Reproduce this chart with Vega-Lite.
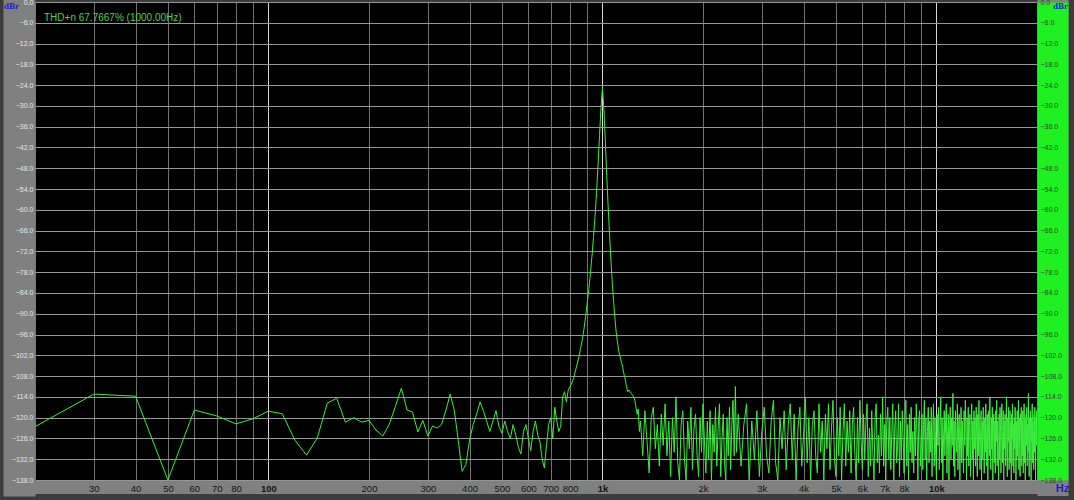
{
"$schema": "https://vega.github.io/schema/vega-lite/v6.json",
"width": 1002,
"height": 478,
"autosize": {"type": "none"},
"padding": {"left": 35, "top": 2, "right": 37, "bottom": 20},
"background": "#3c3c3c",
"config": {"view": {"fill": "#000000", "stroke": null}},
"title": {"text": "THD+n 67.7667% (1000.00Hz)", "orient": "top", "anchor": "start", "frame": "group", "baseline": "alphabetic", "offset": 0, "dx": 9, "dy": 33, "font": "Liberation Sans", "fontSize": 10, "fontWeight": "normal", "color": "#4fd24f"},
"data": {"values": [
{"f":20,"d":-122.6},{"f":30,"d":-113.2},{"f":40,"d":-113.8},{"f":50,"d":-138},{"f":60,"d":-117.8},{"f":70,"d":-119.5},{"f":80,"d":-121.8},{"f":90,"d":-120.3},{"f":100,"d":-118.1},{"f":110,"d":-118.9},
{"f":120,"d":-126.5},{"f":130,"d":-130.8},{"f":140,"d":-125.9},{"f":150,"d":-115.8},{"f":160,"d":-114.4},{"f":170,"d":-121.3},{"f":180,"d":-120},{"f":190,"d":-121.3},{"f":200,"d":-120.8},{"f":210,"d":-123.6},
{"f":220,"d":-125.3},{"f":230,"d":-121.9},{"f":240,"d":-116.7},{"f":250,"d":-111.5},{"f":260,"d":-117.8},{"f":270,"d":-118.4},{"f":280,"d":-124.1},{"f":290,"d":-120.8},{"f":300,"d":-125.3},{"f":310,"d":-122.4},
{"f":320,"d":-123},{"f":330,"d":-121.9},{"f":340,"d":-117.8},{"f":350,"d":-113.2},{"f":360,"d":-117.8},{"f":370,"d":-126.5},{"f":380,"d":-135.5},{"f":390,"d":-133.5},{"f":400,"d":-126.5},{"f":410,"d":-122},
{"f":420,"d":-119},{"f":430,"d":-115.5},{"f":440,"d":-118},{"f":450,"d":-121},{"f":460,"d":-124},{"f":470,"d":-121},{"f":480,"d":-118},{"f":490,"d":-122.5},{"f":500,"d":-124.5},{"f":510,"d":-121},
{"f":520,"d":-124},{"f":530,"d":-126},{"f":540,"d":-122},{"f":550,"d":-125},{"f":560,"d":-128.5},{"f":570,"d":-130.5},{"f":580,"d":-124},{"f":590,"d":-122},{"f":600,"d":-126},{"f":610,"d":-129.5},
{"f":620,"d":-124},{"f":630,"d":-121},{"f":640,"d":-125},{"f":650,"d":-127},{"f":660,"d":-132},{"f":670,"d":-134.5},{"f":680,"d":-128},{"f":690,"d":-122},{"f":700,"d":-120},{"f":710,"d":-126},
{"f":720,"d":-117},{"f":730,"d":-121},{"f":740,"d":-124},{"f":750,"d":-122.5},{"f":760,"d":-114},{"f":770,"d":-112.5},{"f":780,"d":-115.5},{"f":790,"d":-112},{"f":800,"d":-111},{"f":810,"d":-110},
{"f":820,"d":-108.5},{"f":830,"d":-106.5},{"f":840,"d":-104.5},{"f":850,"d":-102.5},{"f":860,"d":-100},{"f":870,"d":-97.5},{"f":880,"d":-94.5},{"f":890,"d":-91},{"f":900,"d":-87},{"f":910,"d":-83},
{"f":920,"d":-78.5},{"f":930,"d":-73.5},{"f":940,"d":-68},{"f":950,"d":-62},{"f":960,"d":-55},{"f":970,"d":-47},{"f":980,"d":-38.5},{"f":990,"d":-30.5},{"f":1000,"d":-24.8},{"f":1010,"d":-31},
{"f":1020,"d":-40},{"f":1030,"d":-50},{"f":1040,"d":-59},{"f":1050,"d":-67},{"f":1060,"d":-74.5},{"f":1070,"d":-81},{"f":1080,"d":-86.5},{"f":1090,"d":-91.5},{"f":1100,"d":-95.5},{"f":1110,"d":-98.5},
{"f":1120,"d":-101},{"f":1130,"d":-102.5},{"f":1140,"d":-104},{"f":1150,"d":-105.5},{"f":1160,"d":-107.5},{"f":1170,"d":-109},{"f":1180,"d":-111},{"f":1190,"d":-112.5},{"f":1200,"d":-112},{"f":1210,"d":-112.5},
{"f":1220,"d":-113},{"f":1230,"d":-113.5},{"f":1240,"d":-114},{"f":1250,"d":-115},{"f":1260,"d":-117},{"f":1270,"d":-119},{"f":1280,"d":-117.5},{"f":1290,"d":-124},
{"f":1300,"d":-121},{"f":1320,"d":-131},{"f":1340,"d":-118},{"f":1360,"d":-127},{"f":1380,"d":-136},{"f":1400,"d":-120},{"f":1420,"d":-117},{"f":1440,"d":-129},{"f":1460,"d":-122},{"f":1480,"d":-134},
{"f":1500,"d":-119},{"f":1520,"d":-128},{"f":1540,"d":-116},{"f":1560,"d":-131},{"f":1580,"d":-121},{"f":1600,"d":-137},{"f":1620,"d":-120},{"f":1640,"d":-130},{"f":1660,"d":-114},{"f":1680,"d":-133},
{"f":1700,"d":-138},{"f":1720,"d":-122},{"f":1740,"d":-118},{"f":1760,"d":-132},{"f":1780,"d":-138},{"f":1800,"d":-121},{"f":1820,"d":-129},{"f":1840,"d":-117},{"f":1860,"d":-135},{"f":1880,"d":-123},
{"f":1900,"d":-119},{"f":1920,"d":-131},{"f":1940,"d":-137},{"f":1960,"d":-120},{"f":1980,"d":-130},{"f":2000,"d":-116},{"f":2020,"d":-127},{"f":2040,"d":-136},{"f":2060,"d":-121},{"f":2080,"d":-132},
{"f":2100,"d":-118},{"f":2120,"d":-138},{"f":2140,"d":-122},{"f":2160,"d":-130},{"f":2180,"d":-117},{"f":2200,"d":-134},{"f":2220,"d":-123},{"f":2240,"d":-116},{"f":2260,"d":-137},{"f":2280,"d":-126},
{"f":2300,"d":-119},{"f":2320,"d":-133},{"f":2340,"d":-138},{"f":2360,"d":-120},{"f":2380,"d":-131},{"f":2400,"d":-117},{"f":2420,"d":-135},{"f":2440,"d":-122},{"f":2460,"d":-115},{"f":2480,"d":-131},
{"f":2500,"d":-111},{"f":2520,"d":-130},
{"f":2550,"d":-119},{"f":2600,"d":-134},{"f":2650,"d":-122},{"f":2700,"d":-116},{"f":2750,"d":-138},{"f":2800,"d":-121},{"f":2850,"d":-132},{"f":2900,"d":-118},{"f":2950,"d":-137},{"f":3000,"d":-124},
{"f":3050,"d":-117},{"f":3100,"d":-131},{"f":3150,"d":-136},{"f":3200,"d":-121},{"f":3250,"d":-115},{"f":3300,"d":-133},{"f":3350,"d":-138},{"f":3400,"d":-120},{"f":3450,"d":-129},{"f":3500,"d":-118},
{"f":3550,"d":-135},{"f":3600,"d":-122},{"f":3650,"d":-116},{"f":3700,"d":-132},{"f":3750,"d":-119},{"f":3800,"d":-138},{"f":3850,"d":-123},{"f":3900,"d":-117},{"f":3950,"d":-134},{"f":4000,"d":-125},
{"f":4050,"d":-114},{"f":4100,"d":-133},{"f":4150,"d":-120},{"f":4200,"d":-138},{"f":4250,"d":-122},{"f":4300,"d":-118},{"f":4350,"d":-131},{"f":4400,"d":-136},{"f":4450,"d":-116},{"f":4500,"d":-130},
{"f":4550,"d":-121},{"f":4600,"d":-138},{"f":4650,"d":-119},{"f":4700,"d":-129},{"f":4750,"d":-116},{"f":4800,"d":-135},{"f":4850,"d":-123},{"f":4900,"d":-115},{"f":4950,"d":-132},{"f":5000,"d":-137},
{"f":5050,"d":-120},{"f":5100,"d":-131},{"f":5150,"d":-117},{"f":5200,"d":-138},{"f":5250,"d":-124},{"f":5300,"d":-116},{"f":5350,"d":-134},{"f":5400,"d":-121},{"f":5450,"d":-130},{"f":5500,"d":-118},
{"f":5550,"d":-136},{"f":5600,"d":-122},{"f":5650,"d":-117},{"f":5700,"d":-131},{"f":5750,"d":-138},{"f":5800,"d":-120},{"f":5850,"d":-133},{"f":5900,"d":-115},{"f":5950,"d":-127},{"f":6000,"d":-135},
{"f":6050,"d":-119},{"f":6100,"d":-132},{"f":6150,"d":-121},{"f":6200,"d":-116},{"f":6250,"d":-137},{"f":6300,"d":-123},{"f":6350,"d":-134},{"f":6400,"d":-118},{"f":6450,"d":-130},{"f":6500,"d":-138},
{"f":6550,"d":-120},{"f":6600,"d":-116},{"f":6650,"d":-133},{"f":6700,"d":-125},{"f":6750,"d":-136},{"f":6800,"d":-119},{"f":6850,"d":-131},{"f":6900,"d":-114},{"f":6950,"d":-134},{"f":7000,"d":-122},
{"f":7050,"d":-138},{"f":7100,"d":-121},{"f":7150,"d":-117},{"f":7200,"d":-132},{"f":7250,"d":-120},{"f":7300,"d":-135},{"f":7350,"d":-124},{"f":7400,"d":-116},{"f":7450,"d":-138},{"f":7500,"d":-123},
{"f":7550,"d":-118},{"f":7600,"d":-133},{"f":7650,"d":-128},{"f":7700,"d":-116},{"f":7750,"d":-137},{"f":7800,"d":-121},{"f":7850,"d":-132},{"f":7900,"d":-118},{"f":7950,"d":-126},{"f":8000,"d":-136},
{"f":8050,"d":-120},{"f":8100,"d":-115},{"f":8150,"d":-134},{"f":8200,"d":-122},{"f":8250,"d":-138},{"f":8300,"d":-119},{"f":8350,"d":-130},{"f":8400,"d":-117},{"f":8450,"d":-133},{"f":8500,"d":-124},
{"f":8550,"d":-136},{"f":8600,"d":-120},{"f":8650,"d":-131},{"f":8700,"d":-116},{"f":8750,"d":-125},{"f":8800,"d":-138},{"f":8850,"d":-121},{"f":8900,"d":-118},{"f":8950,"d":-134},{"f":9000,"d":-127},
{"f":9050,"d":-119},{"f":9100,"d":-135},{"f":9150,"d":-122},{"f":9200,"d":-115},{"f":9250,"d":-132},{"f":9300,"d":-120},{"f":9350,"d":-138},{"f":9400,"d":-124},{"f":9450,"d":-117},{"f":9500,"d":-133},
{"f":9550,"d":-121},{"f":9600,"d":-130},{"f":9650,"d":-117},{"f":9700,"d":-137},{"f":9750,"d":-123},{"f":9800,"d":-116},{"f":9850,"d":-134},{"f":9900,"d":-120},{"f":9950,"d":-131},{"f":10000,"d":-138},
{"f":10050,"d":-119},{"f":10100,"d":-128},{"f":10150,"d":-117},{"f":10200,"d":-135},{"f":10250,"d":-122},{"f":10300,"d":-114},{"f":10350,"d":-133},{"f":10400,"d":-120},{"f":10450,"d":-138},{"f":10500,"d":-126},
{"f":10550,"d":-118},{"f":10600,"d":-131},{"f":10650,"d":-121},{"f":10700,"d":-116},{"f":10750,"d":-136},{"f":10800,"d":-124},{"f":10850,"d":-119},{"f":10900,"d":-138},{"f":10950,"d":-123},{"f":11000,"d":-117},
{"f":11050,"d":-132},{"f":11100,"d":-120},{"f":11150,"d":-128},{"f":11200,"d":-113},{"f":11250,"d":-134},{"f":11300,"d":-121},{"f":11350,"d":-137},{"f":11400,"d":-118},{"f":11450,"d":-126},{"f":11500,"d":-130},
{"f":11550,"d":-116},{"f":11600,"d":-135},{"f":11650,"d":-122},{"f":11700,"d":-119},{"f":11750,"d":-138},{"f":11800,"d":-127},{"f":11850,"d":-117},{"f":11900,"d":-133},{"f":11950,"d":-121},{"f":12000,"d":-129},
{"f":12050,"d":-136},{"f":12100,"d":-118},{"f":12150,"d":-128},{"f":12200,"d":-115},{"f":12250,"d":-123},{"f":12300,"d":-138},{"f":12350,"d":-120},{"f":12400,"d":-131},{"f":12450,"d":-117},{"f":12500,"d":-134},
{"f":12550,"d":-122},{"f":12600,"d":-119},{"f":12650,"d":-137},{"f":12700,"d":-125},{"f":12750,"d":-116},{"f":12800,"d":-132},{"f":12850,"d":-121},{"f":12900,"d":-138},{"f":12950,"d":-118},{"f":13000,"d":-129},
{"f":13050,"d":-120},{"f":13100,"d":-134},{"f":13150,"d":-117},{"f":13200,"d":-126},{"f":13250,"d":-137},{"f":13300,"d":-119},{"f":13350,"d":-131},{"f":13400,"d":-115},{"f":13450,"d":-123},{"f":13500,"d":-135},
{"f":13550,"d":-127},{"f":13600,"d":-118},{"f":13650,"d":-138},{"f":13700,"d":-121},{"f":13750,"d":-132},{"f":13800,"d":-117},{"f":13850,"d":-125},{"f":13900,"d":-136},{"f":13950,"d":-120},{"f":14000,"d":-130},
{"f":14050,"d":-116},{"f":14100,"d":-123},{"f":14150,"d":-134},{"f":14200,"d":-119},{"f":14250,"d":-138},{"f":14300,"d":-126},{"f":14350,"d":-118},{"f":14400,"d":-131},{"f":14450,"d":-114},{"f":14500,"d":-128},
{"f":14550,"d":-135},{"f":14600,"d":-120},{"f":14650,"d":-129},{"f":14700,"d":-117},{"f":14750,"d":-138},{"f":14800,"d":-122},{"f":14850,"d":-119},{"f":14900,"d":-133},{"f":14950,"d":-121},{"f":15000,"d":-136},
{"f":15050,"d":-118},{"f":15100,"d":-127},{"f":15150,"d":-115},{"f":15200,"d":-134},{"f":15250,"d":-121},{"f":15300,"d":-130},{"f":15350,"d":-138},{"f":15400,"d":-119},{"f":15450,"d":-132},{"f":15500,"d":-117},
{"f":15550,"d":-122},{"f":15600,"d":-136},{"f":15650,"d":-120},{"f":15700,"d":-116},{"f":15750,"d":-133},{"f":15800,"d":-124},{"f":15850,"d":-118},{"f":15900,"d":-138},{"f":15950,"d":-121},{"f":16000,"d":-129},
{"f":16050,"d":-119},{"f":16100,"d":-134},{"f":16150,"d":-122},{"f":16200,"d":-114},{"f":16250,"d":-131},{"f":16300,"d":-137},{"f":16350,"d":-120},{"f":16400,"d":-127},{"f":16450,"d":-117},{"f":16500,"d":-135},
{"f":16550,"d":-128},{"f":16600,"d":-118},{"f":16650,"d":-133},{"f":16700,"d":-121},{"f":16750,"d":-138},{"f":16800,"d":-119},{"f":16850,"d":-126},{"f":16900,"d":-116},{"f":16950,"d":-134},{"f":17000,"d":-122},
{"f":17050,"d":-136},{"f":17100,"d":-120},{"f":17150,"d":-129},{"f":17200,"d":-117},{"f":17250,"d":-123},{"f":17300,"d":-138},{"f":17350,"d":-121},{"f":17400,"d":-132},{"f":17450,"d":-118},{"f":17500,"d":-131},
{"f":17550,"d":-124},{"f":17600,"d":-115},{"f":17650,"d":-135},{"f":17700,"d":-120},{"f":17750,"d":-128},{"f":17800,"d":-137},{"f":17850,"d":-119},{"f":17900,"d":-122},{"f":17950,"d":-117},{"f":18000,"d":-134},
{"f":18050,"d":-121},{"f":18100,"d":-131},{"f":18150,"d":-118},{"f":18200,"d":-136},{"f":18250,"d":-125},{"f":18300,"d":-116},{"f":18350,"d":-133},{"f":18400,"d":-120},{"f":18450,"d":-138},{"f":18500,"d":-123},
{"f":18550,"d":-119},{"f":18600,"d":-128},{"f":18650,"d":-117},{"f":18700,"d":-134},{"f":18750,"d":-122},{"f":18800,"d":-130},{"f":18850,"d":-113},{"f":18900,"d":-124},{"f":18950,"d":-137},{"f":19000,"d":-120},
{"f":19050,"d":-132},{"f":19100,"d":-118},{"f":19150,"d":-123},{"f":19200,"d":-138},{"f":19250,"d":-120},{"f":19300,"d":-127},{"f":19350,"d":-116},{"f":19400,"d":-133},{"f":19450,"d":-121},{"f":19500,"d":-126},
{"f":19550,"d":-135},{"f":19600,"d":-119},{"f":19650,"d":-130},{"f":19700,"d":-117},{"f":19750,"d":-122},{"f":19800,"d":-138},{"f":19850,"d":-120},{"f":19900,"d":-128},{"f":19950,"d":-118},{"f":20000,"d":-124}
]},
"layer": [
{
"mark": {"type": "line", "color": "#3cee3c", "strokeWidth": 1, "clip": true},
"encoding": {
"x": {"field": "f", "type": "quantitative", "scale": {"type": "log", "domain": [20, 20000], "nice": false},
"axis": {"orient": "bottom", "title": null, "grid": true, "domain": false, "ticks": false, "labels": false, "zindex": 0,
"values": [20,30,40,50,60,70,80,90,100,200,300,400,500,600,700,800,900,1000,2000,3000,4000,5000,6000,7000,8000,9000,10000,20000],
"gridColor": {"condition": {"test": "datum.value == 100 || datum.value == 1000 || datum.value == 10000", "value": "#d8d8d8"}, "value": "#727272"}, "gridWidth": 1, "gridOpacity": 1}},
"y": {"field": "d", "type": "quantitative", "scale": {"domain": [-138, 0], "nice": false, "zero": false},
"axis": {"orient": "left", "title": null, "grid": true, "domain": false, "ticks": false, "labels": false, "zindex": 0,
"values": [0,-6,-12,-18,-24,-30,-36,-42,-48,-54,-60,-66,-72,-78,-84,-90,-96,-102,-108,-114,-120,-126,-132,-138],
"gridColor": "#969696", "gridWidth": 1, "gridOpacity": 1}}
}
},
{
"mark": {"type": "line", "opacity": 0},
"encoding": {
"x": {"field": "f", "type": "quantitative", "scale": {"type": "log", "domain": [20, 20000], "nice": false},
"axis": {"orient": "bottom", "offset": 7, "grid": false, "domain": true, "domainWidth": 13, "domainColor": "#808080", "domainCap": "square", "domainOpacity": 1, "ticks": false, "labels": false, "title": null, "zindex": 1}},
"y": {"field": "d", "type": "quantitative", "scale": {"domain": [-138, 0], "nice": false, "zero": false},
"axis": {"orient": "left", "offset": 16, "grid": false, "domain": true, "domainWidth": 32, "domainColor": "#808080", "domainCap": "square", "domainOpacity": 1, "ticks": false, "labels": false, "title": null, "zindex": 1}}
}
},
{
"mark": {"type": "line", "opacity": 0},
"encoding": {
"x": {"field": "f", "type": "quantitative", "scale": {"type": "log", "domain": [20, 20000], "nice": false}, "axis": null},
"y": {"field": "d", "type": "quantitative", "scale": {"domain": [-138, 0], "nice": false, "zero": false},
"axis": {"orient": "right", "offset": 15.5, "grid": false, "domain": true, "domainWidth": 31, "domainColor": "#808080", "domainCap": "square", "domainOpacity": 1, "ticks": false, "labels": false, "title": null, "zindex": 1}}
}
},
{
"mark": {"type": "line", "opacity": 0},
"encoding": {
"x": {"field": "f", "type": "quantitative", "scale": {"type": "log", "domain": [20, 20000], "nice": false}, "axis": null},
"y": {"field": "d", "type": "quantitative", "scale": {"domain": [-138, 0], "nice": false, "zero": false},
"axis": {"orient": "right", "offset": 15.5, "grid": false, "domain": true, "domainWidth": 31, "domainColor": "#1ff01f", "domainCap": "butt", "domainOpacity": 1, "ticks": false, "labels": false, "title": null, "zindex": 2}}
}
},
{
"mark": {"type": "line", "opacity": 0},
"encoding": {
"x": {"field": "f", "type": "quantitative", "scale": {"type": "log", "domain": [20, 20000], "nice": false},
"axis": {"orient": "bottom", "offset": 7, "grid": false, "domain": false, "zindex": 3,
"ticks": false, "tickSize": 0, "labelPadding": 1.5, "labelBaseline": "middle", "labelAlign": "center", "labelOverlap": false, "labelBound": false, "labelFlush": false,
"values": [30,40,50,60,70,80,100,200,300,400,500,600,700,800,1000,2000,3000,4000,5000,6000,7000,8000,10000],
"labelExpr": "datum.value >= 1000 ? (datum.value / 1000) + 'k' : datum.value + ''",
"labelFont": "Liberation Sans", "labelFontSize": 9.5, "labelColor": "#141414",
"labelFontWeight": {"condition": {"test": "datum.value == 100 || datum.value == 1000 || datum.value == 10000", "value": "bold"}, "value": "normal"},
"title": "Hz", "titleX": 1027, "titleY": 1.5, "titleAlign": "center", "titleBaseline": "middle", "titleAnchor": null, "titleFont": "Liberation Sans", "titleFontSize": 11, "titleFontWeight": "bold", "titleColor": "#1c1cd8"}},
"y": {"field": "d", "type": "quantitative", "scale": {"domain": [-138, 0], "nice": false, "zero": false},
"axis": {"orient": "left", "offset": 16, "grid": false, "domain": false, "zindex": 3,
"ticks": false, "tickSize": 0, "labelPadding": -14, "labelAlign": "right", "labelBaseline": "middle", "labelOverlap": false, "labelBound": false, "labelFlush": false,
"values": [0,-6,-12,-18,-24,-30,-36,-42,-48,-54,-60,-66,-72,-78,-84,-90,-96,-102,-108,-114,-120,-126,-132,-138],
"format": ".1f", "labelFont": "Liberation Sans", "labelFontSize": 7, "labelColor": "#e6e6e6",
"title": "dBr", "titleAngle": 0, "titleX": -8, "titleY": 3.5, "titleAlign": "center", "titleBaseline": "middle", "titleAnchor": null, "titleFont": "Liberation Serif", "titleFontSize": 9, "titleFontWeight": "bold", "titleColor": "#1c1cd8"}}
}
},
{
"mark": {"type": "line", "opacity": 0},
"encoding": {
"x": {"field": "f", "type": "quantitative", "scale": {"type": "log", "domain": [20, 20000], "nice": false}, "axis": null},
"y": {"field": "d", "type": "quantitative", "scale": {"domain": [-138, 0], "nice": false, "zero": false},
"axis": {"orient": "right", "offset": 15.5, "grid": false, "domain": false, "zindex": 3,
"ticks": false, "tickSize": 0, "labelPadding": -12.5, "labelAlign": "left", "labelBaseline": "middle", "labelOverlap": false, "labelBound": false, "labelFlush": false,
"values": [0,-6,-12,-18,-24,-30,-36,-42,-48,-54,-60,-66,-72,-78,-84,-90,-96,-102,-108,-114,-120,-126,-132,-138],
"format": ".1f", "labelFont": "Liberation Sans", "labelFontSize": 7, "labelColor": "#3c3c3c",
"title": "dBr", "titleAngle": 0, "titleX": 7.5, "titleY": 3.5, "titleAlign": "center", "titleBaseline": "middle", "titleAnchor": null, "titleFont": "Liberation Serif", "titleFontSize": 9, "titleFontWeight": "bold", "titleColor": "#1c1cd8"}}
}
}
],
"resolve": {"axis": {"x": "independent", "y": "independent"}}
}
